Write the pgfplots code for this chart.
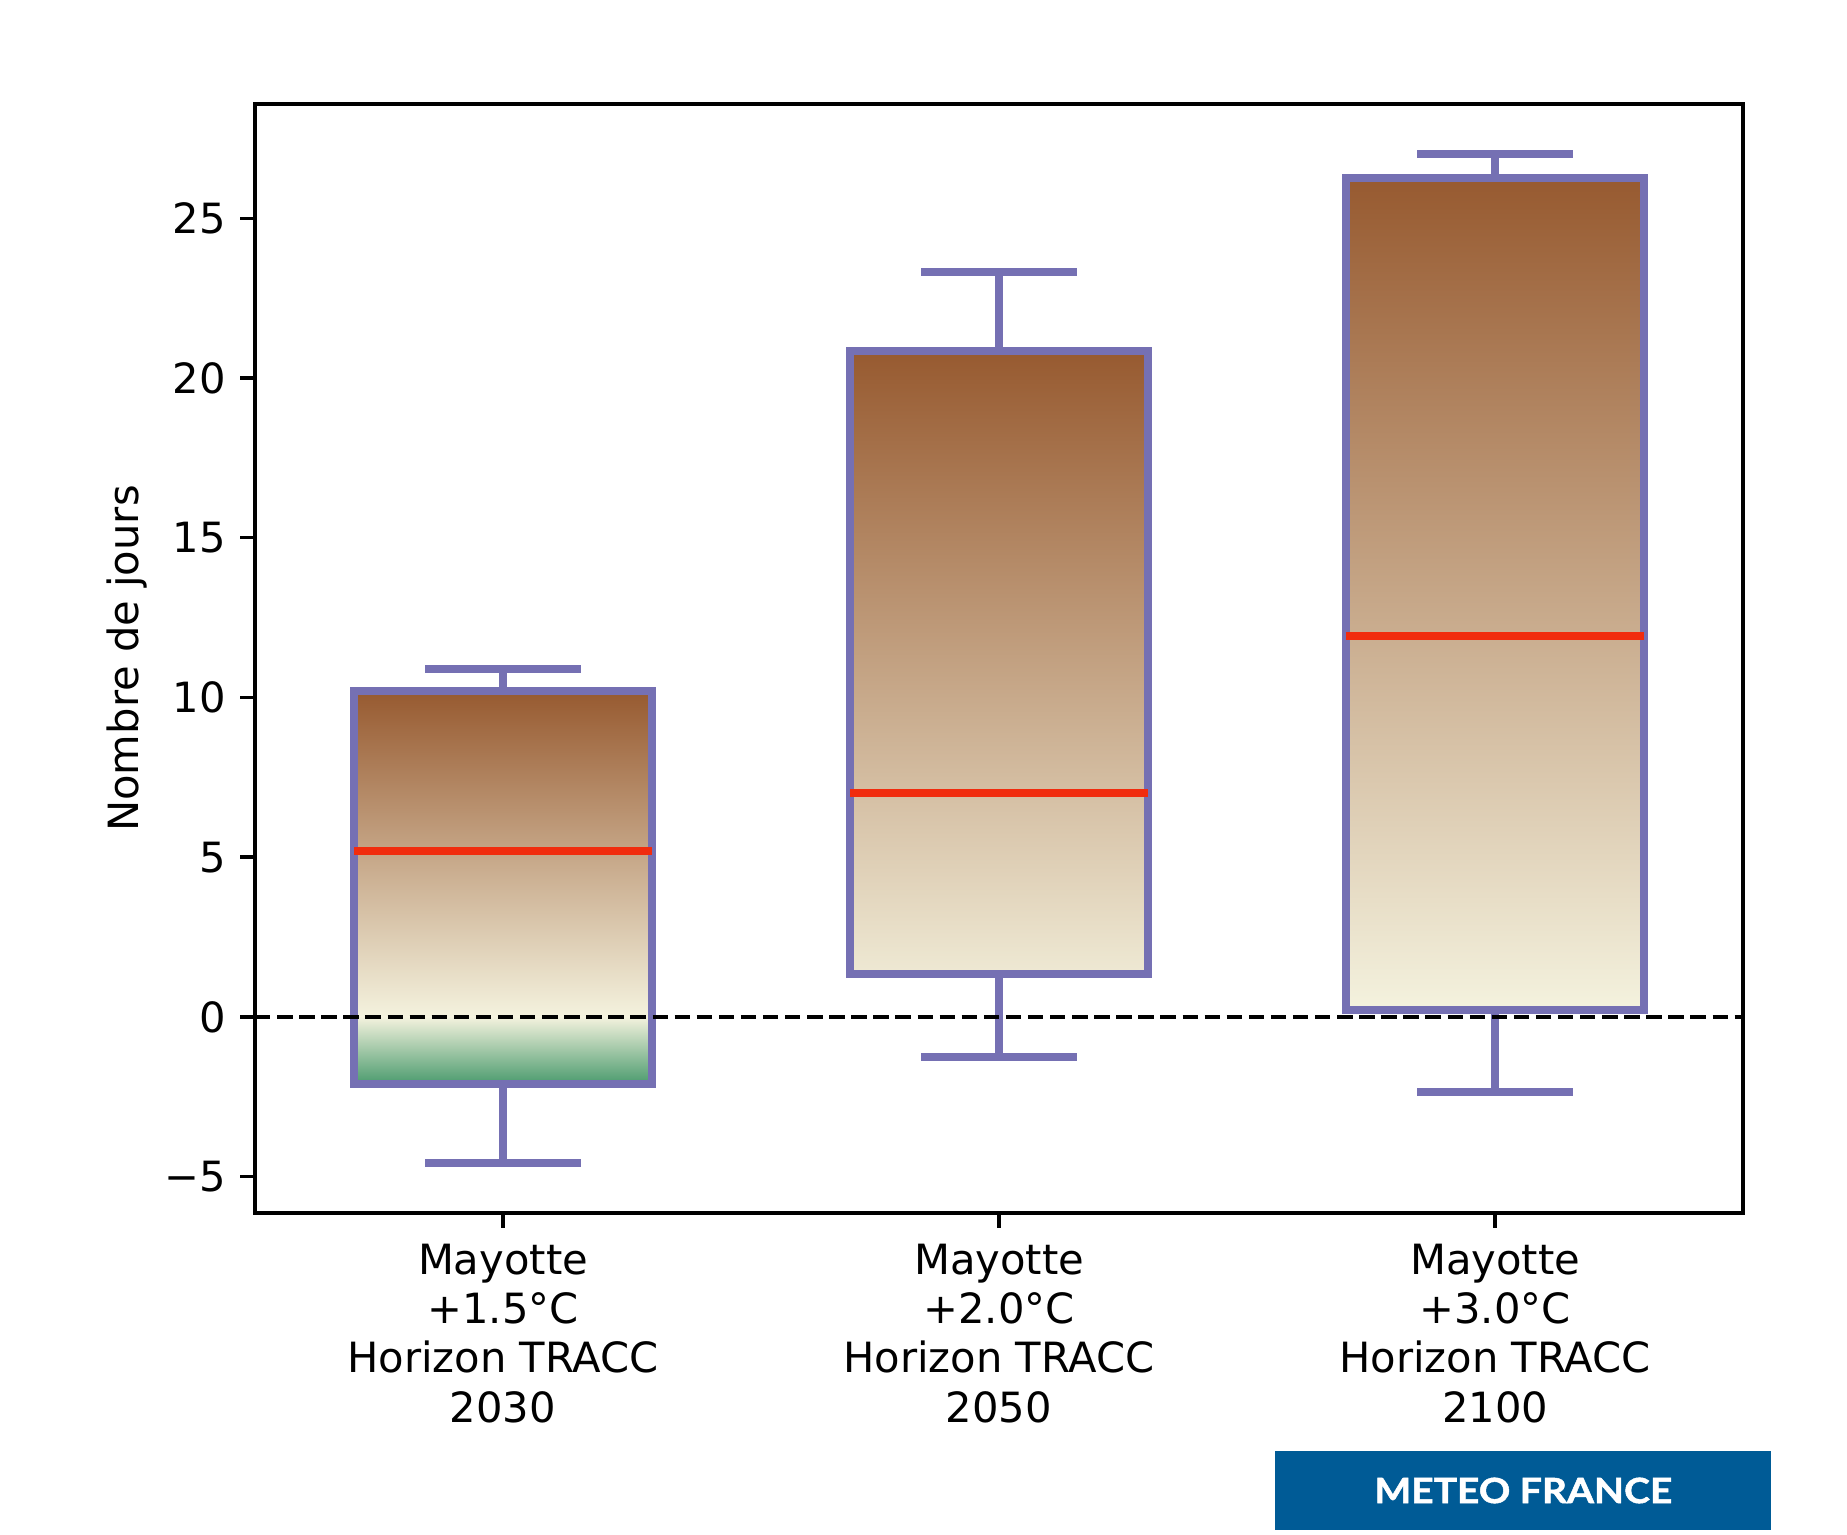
\documentclass[border=0pt]{standalone}
\usepackage{fontspec}
\setmainfont{DejaVu Sans}
\newfontfamily\logofont{Lato}[BoldFeatures={FakeBold=1.3}]
\usepackage{graphicx}
\usepackage{pgfplots}
\pgfplotsset{compat=1.18}
\usepgfplotslibrary{statistics}
\definecolor{mpurple}{RGB}{117,112,179}
\definecolor{mred}{RGB}{241,44,14}
\definecolor{mbrown}{RGB}{151,90,48}
\definecolor{mcream}{RGB}{244,242,222}
\definecolor{mgreen}{RGB}{75,155,110}
\definecolor{logoblue}{RGB}{0,91,150}
\begin{document}
\begin{tikzpicture}
\useasboundingbox (0,0) rectangle (443.28pt,368.4pt);
\begin{axis}[
  at={(61.2pt,77.28pt)}, anchor=south west,
  scale only axis, width=357.12pt, height=266.16pt,
  xmin=0.5, xmax=3.5, ymin=-6.14, ymax=28.58,
  xtick={1,2,3},
  xticklabels={{Mayotte\\+1.5°C\\Horizon TRACC\\2030},{Mayotte\\+2.0°C\\Horizon TRACC\\2050},{Mayotte\\+3.0°C\\Horizon TRACC\\2100}},
  ytick={-5,0,5,10,15,20,25},
  yticklabels={−5,0,5,10,15,20,25},
  tick align=outside, xtick pos=bottom, ytick pos=left,
  major tick length=3.5pt,
  every tick/.style={black, line width=0.8pt},
  axis line style={line width=0.8pt},
  tick label style={font=\fontsize{10}{11.8}\selectfont},
  xticklabel style={align=center, anchor=north, inner sep=0pt, yshift=-3.8pt},
  yticklabel style={anchor=east, inner sep=0pt, xshift=-3.3pt},
  ylabel={Nombre de jours},
  ylabel style={at={(axis description cs:-0.0719,0.5)}, anchor=south, inner sep=0pt, font=\fontsize{10}{12}\selectfont},
  boxplot/draw direction=y,
  boxplot/box extend=0.6,
  boxplot/whisker extend=0.3,
  boxplot/every median/.style={draw=mred, line width=1.92pt, line cap=butt},
  boxplot/every whisker/.style={line cap=rect},
]
% gradient fills (inside of boxes)
\addplot[draw=none, top color=mbrown, bottom color=mcream, forget plot] coordinates {(0.7,0) (1.3,0) (1.3,10.19) (0.7,10.19)} -- cycle;
\addplot[draw=none, top color=mcream, bottom color=mgreen, forget plot] coordinates {(0.7,-2.1) (1.3,-2.1) (1.3,0) (0.7,0)} -- cycle;
\addplot[draw=none, top color=mbrown, bottom color=mbrown!6!mcream, forget plot] coordinates {(1.7,1.33) (2.3,1.33) (2.3,20.84) (1.7,20.84)} -- cycle;
\addplot[draw=none, top color=mbrown, bottom color=mcream, forget plot] coordinates {(2.7,0.23) (3.3,0.23) (3.3,26.26) (2.7,26.26)} -- cycle;
% boxplots
\addplot[mpurple, line width=1.92pt, solid, boxplot prepared={draw position=1, lower whisker=-4.56, lower quartile=-2.1, median=5.2, upper quartile=10.19, upper whisker=10.9}] coordinates {};
\addplot[mpurple, line width=1.92pt, solid, boxplot prepared={draw position=2, lower whisker=-1.27, lower quartile=1.33, median=7.0, upper quartile=20.84, upper whisker=23.32}] coordinates {};
\addplot[mpurple, line width=1.92pt, solid, boxplot prepared={draw position=3, lower whisker=-2.34, lower quartile=0.23, median=11.91, upper quartile=26.26, upper whisker=27.0}] coordinates {};
% zero line
\addplot[black, line width=1pt, dash pattern=on 3.7pt off 1.6pt] coordinates {(0.5,0) (3.5,0)};
\end{axis}
\fill[logoblue] (306pt,1.2pt) rectangle (425pt,20.16pt);
\node[white, inner sep=0pt] at (365.6pt,10.68pt) {\resizebox{71.5pt}{6.1pt}{\logofont\bfseries METEO FRANCE}};
\end{tikzpicture}
\end{document}
